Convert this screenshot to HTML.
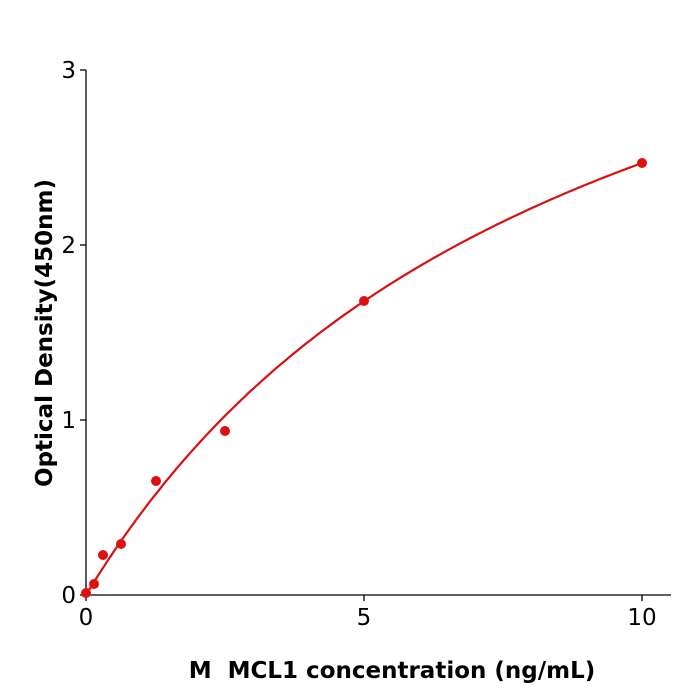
<!DOCTYPE html>
<html><head><meta charset="utf-8"><style>
html,body{margin:0;padding:0;background:#fff;}
svg{display:block;font-family:"DejaVu Sans","Liberation Sans",sans-serif;}
</style></head><body>
<svg id="s" width="700" height="700" viewBox="0 0 700 700">
<g stroke="#000" stroke-width="1.3" fill="none">
<line x1="86" y1="595" x2="671" y2="595"/>
<line x1="86" y1="70" x2="86" y2="595"/>
<line x1="86" y1="595" x2="86" y2="601"/>
<line x1="364" y1="595" x2="364" y2="601"/>
<line x1="642" y1="595" x2="642" y2="601"/>
<line x1="80" y1="595" x2="86" y2="595"/>
<line x1="80" y1="420" x2="86" y2="420"/>
<line x1="80" y1="245" x2="86" y2="245"/>
<line x1="80" y1="70" x2="86" y2="70"/>
</g>
<g font-size="23" fill="#000">
<text x="86" y="625" text-anchor="middle">0</text>
<text x="364" y="625" text-anchor="middle">5</text>
<text x="642" y="625" text-anchor="middle">10</text>
<text x="76" y="603" text-anchor="end">0</text>
<text x="76" y="428" text-anchor="end">1</text>
<text x="76" y="253" text-anchor="end">2</text>
<text x="76" y="78" text-anchor="end">3</text>
</g>
<text x="392" y="678" text-anchor="middle" font-size="23" font-weight="bold" xml:space="preserve" style="white-space:pre">M  MCL1 concentration (ng/mL)</text>
<text transform="translate(52,333) rotate(-90)" text-anchor="middle" font-size="23" font-weight="bold">Optical Density(450nm)</text>
<path id="c" fill="none" stroke="#d81010" stroke-width="2.2"/>
<g fill="#e01010">
<circle cx="86" cy="593" r="5"/>
<circle cx="94" cy="584" r="5"/>
<circle cx="103" cy="555" r="5"/>
<circle cx="121" cy="544" r="5"/>
<circle cx="156" cy="481" r="5"/>
<circle cx="225" cy="431" r="5"/>
<circle cx="364" cy="301" r="5"/>
<circle cx="642" cy="163" r="5"/>
</g>
</svg>
<script>
var d="";for(var i=0;i<=200;i++){var x=10*i/200;var y=4.66*x/(8.88+x);
var px=86+x*55.6,py=595-y*175;d+=(i?"L":"M")+px.toFixed(1)+" "+py.toFixed(1);}
document.getElementById("c").setAttribute("d",d);
</script>
</body></html>
